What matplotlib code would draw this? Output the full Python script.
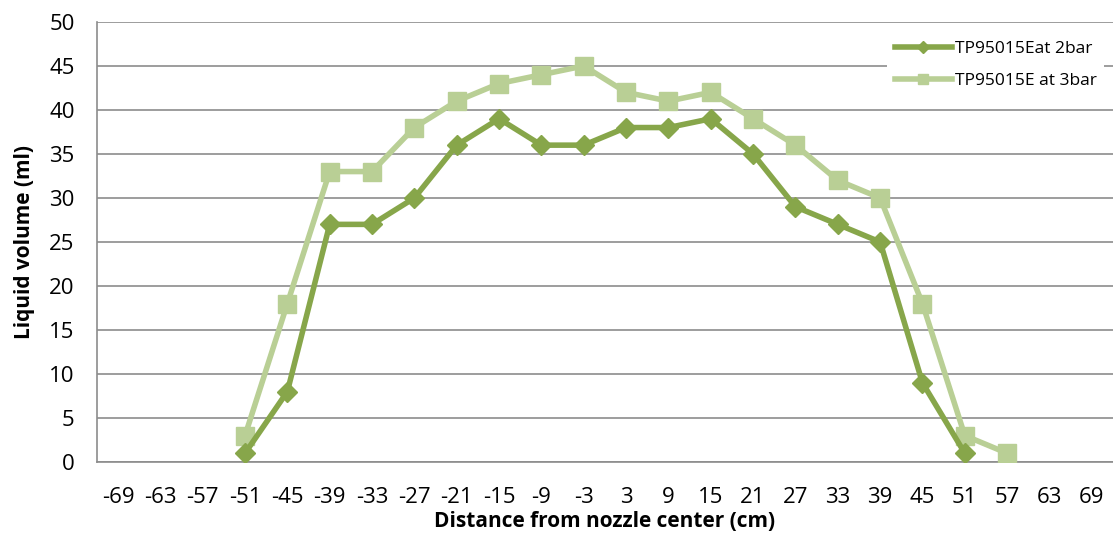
import numpy as np
import matplotlib
matplotlib.use("Agg")
import matplotlib.pyplot as plt

plt.rcParams['font.family'] = ['Open Sans', 'DejaVu Sans']

categories = [str(v) for v in range(-69, 70, 6)]
series_2bar = [None, None, None, 1, 8, 27, 27, 30, 36, 39, 36, 36, 38, 38, 39, 35, 29, 27, 25, 9, 1, None, None, None]
series_3bar = [None, None, None, 3, 18, 33, 33, 38, 41, 43, 44, 45, 42, 41, 42, 39, 36, 32, 30, 18, 3, 1, None, None]

dark = '#87A64A'
light = '#B9CF95'

fig = plt.figure(figsize=(11.13, 5.4), dpi=100)
ax = fig.add_axes([0.087, 0.1444, 0.913, 0.815])

x = np.arange(len(categories))
y2 = np.array([np.nan if v is None else v for v in series_2bar], dtype=float)
y3 = np.array([np.nan if v is None else v for v in series_3bar], dtype=float)

ax.plot(x, y3, color=light, lw=4, marker='s', ms=13, label='TP95015E at 3bar', zorder=3)
ax.plot(x, y2, color=dark, lw=4, marker='D', ms=10, label='TP95015Eat 2bar', zorder=4)

ax.set_xlim(-0.5, len(categories) - 0.5)
ax.set_ylim(0, 50)
ax.set_yticks(range(0, 51, 5))
ax.set_xticks(x)
ax.set_xticklabels(categories)
ax.tick_params(axis='both', length=0, labelsize=16, colors='black')
ax.tick_params(axis='x', pad=18)
ax.tick_params(axis='y', pad=16)
ax.grid(axis='y', color='#8C8C8C', lw=1.2)
ax.set_axisbelow(True)
for s in ['top', 'right']:
    ax.spines[s].set_visible(False)
for s in ['left', 'bottom']:
    ax.spines[s].set_color('#8C8C8C')
    ax.spines[s].set_linewidth(1.2)

ax.set_xlabel('Distance from nozzle center (cm)', fontsize=15, fontweight='bold', labelpad=2)
ax.set_ylabel('Liquid volume (ml)', fontsize=15, fontweight='bold', labelpad=10)

handles, labels = ax.get_legend_handles_labels()
leg = ax.legend(handles[::-1], labels[::-1], loc='upper right', bbox_to_anchor=(1.0, 0.995),
                frameon=True, framealpha=1, edgecolor='white', fontsize=12.5,
                handlelength=3.3, handletextpad=0.15, borderpad=0.45, labelspacing=0.95,
                markerscale=0.6)
leg.get_frame().set_linewidth(0)

fig.savefig('out.png', dpi=100)
